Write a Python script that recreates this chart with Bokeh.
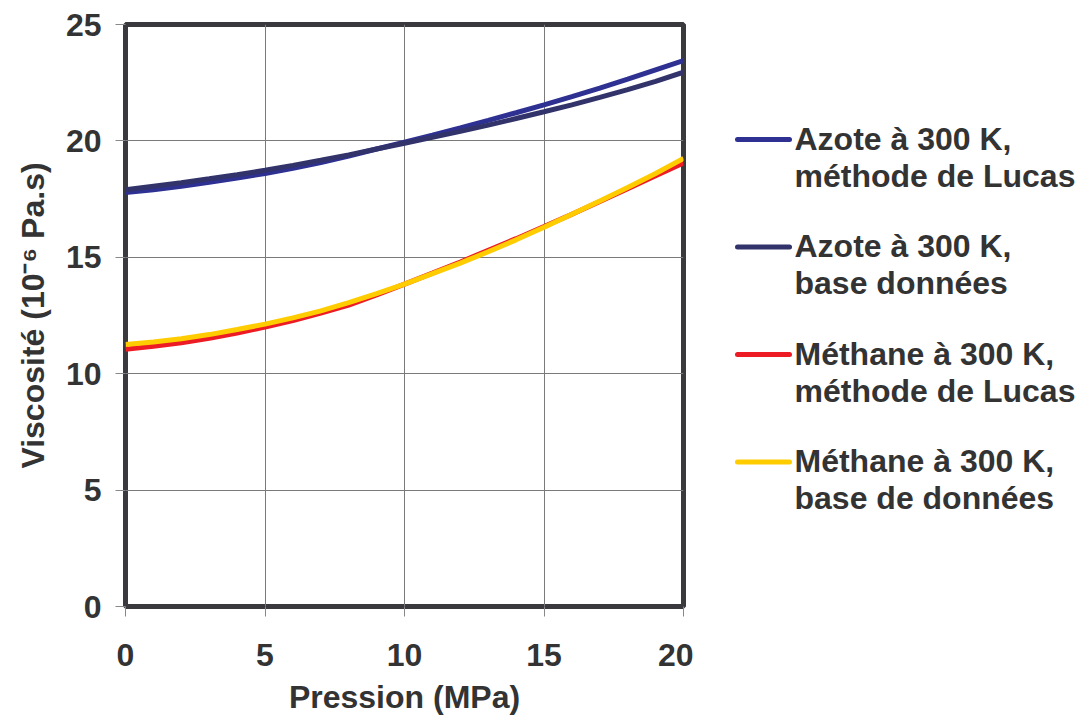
from bokeh.plotting import figure
from bokeh.models import Range1d, FixedTicker
from bokeh.layouts import row
from bokeh.core.properties import value
from bokeh.embed import file_html
from bokeh.resources import INLINE

# ---- data ----
pression = [0, 1, 2, 3, 4, 5, 6, 7, 8, 9, 10, 11, 12, 13, 14, 15, 16, 17, 18, 19, 20]
azote_lucas = [17.78, 17.9, 18.05, 18.22, 18.4, 18.6, 18.82, 19.07, 19.35, 19.65, 19.95,
               20.25, 20.56, 20.88, 21.21, 21.55, 21.9, 22.27, 22.65, 23.05, 23.45]
azote_base = [17.9, 18.05, 18.2, 18.37, 18.55, 18.74, 18.95, 19.17, 19.4, 19.65, 19.9,
              20.15, 20.41, 20.68, 20.96, 21.25, 21.55, 21.87, 22.2, 22.56, 22.95]
methane_lucas = [11.05, 11.18, 11.33, 11.52, 11.75, 12.0, 12.28, 12.6, 12.95, 13.38, 13.85,
                 14.32, 14.8, 15.3, 15.8, 16.32, 16.85, 17.4, 17.95, 18.5, 19.05]
methane_base = [11.25, 11.36, 11.5, 11.68, 11.9, 12.13, 12.4, 12.7, 13.05, 13.44, 13.85,
                14.3, 14.75, 15.24, 15.75, 16.29, 16.85, 17.42, 18.0, 18.6, 19.25]

series_first = ["Azote à 300 K,", "Azote à 300 K,", "Méthane à 300 K,", "Méthane à 300 K,"]
series_second = ["méthode de Lucas", "base données", "méthode de Lucas", "base de données"]
series_values = [azote_lucas, azote_base, methane_lucas, methane_base]
series_colors = ["#2E3192", "#33336B", "#ED1C24", "#FFCC00"]

x_ticks = [0, 5, 10, 15, 20]
y_ticks = [0, 5, 10, 15, 20, 25]

FONT = "Liberation Sans"
TXT = "#333333"
FS = "32px"

p = figure(frame_width=558, frame_height=582,
           min_border_left=125, min_border_right=10,
           min_border_top=24, min_border_bottom=114,
           x_range=Range1d(0, 20), y_range=Range1d(0, 25),
           output_backend="svg", toolbar_location=None,
           background_fill_color="white", border_fill_color="white")

p.outline_line_color = "#3A3A3E"
p.outline_line_width = 5

for ax in (p.xaxis[0], p.yaxis[0]):
    ax.axis_line_color = None
    ax.major_tick_line_color = "#888888"
    ax.major_tick_line_width = 1
    ax.major_tick_out = 10
    ax.major_tick_in = 0
    ax.minor_tick_line_color = None
    ax.major_label_text_font = FONT
    ax.major_label_text_font_style = "bold"
    ax.major_label_text_font_size = FS
    ax.major_label_text_color = TXT
    ax.axis_label_text_font = FONT
    ax.axis_label_text_font_style = "bold"
    ax.axis_label_text_font_size = FS
    ax.axis_label_text_color = TXT

p.xaxis[0].ticker = FixedTicker(ticks=x_ticks)
p.yaxis[0].ticker = FixedTicker(ticks=y_ticks)
p.xaxis[0].axis_label = "Pression (MPa)"
p.yaxis[0].axis_label = "Viscosité (10⁻⁶ Pa.s)"
p.xaxis[0].major_label_standoff = 27
p.yaxis[0].major_label_standoff = 14
p.xaxis[0].axis_label_standoff = 10
p.yaxis[0].axis_label_standoff = 12

p.xgrid.ticker = FixedTicker(ticks=x_ticks)
p.ygrid.ticker = FixedTicker(ticks=y_ticks)
p.grid.grid_line_color = "#7A7A7A"
p.grid.grid_line_width = 1

for vals, col in zip(series_values, series_colors):
    p.line(pression, vals, line_color=col, line_width=5)

# ---- legend panel: frame aligned with the chart frame, coordinates = page pixels ----
LW = 388
lg = figure(width=LW, frame_height=582,
            min_border_left=0, min_border_right=0,
            min_border_top=24, min_border_bottom=114,
            x_range=Range1d(0, LW), y_range=Range1d(606, 24),
            output_backend="svg", toolbar_location=None,
            background_fill_color="white", border_fill_color="white")
lg.axis.visible = False
lg.grid.visible = False
lg.outline_line_color = None

sw_x0, sw_x1, txt_x = 44, 96, 101
row0, step = 139, 107.5
for i, (t1, t2, col) in enumerate(zip(series_first, series_second, series_colors)):
    yc = row0 + i * step
    lg.line([sw_x0, sw_x1], [yc, yc], line_color=col, line_width=5, line_cap="round")
    lg.text([txt_x], [yc - 1], text=[t1], text_font=value(FONT), text_font_style="bold",
            text_font_size=FS, text_color=TXT, text_baseline="alphabetic")
    lg.text([txt_x], [yc + 36], text=[t2], text_font=value(FONT), text_font_style="bold",
            text_font_size=FS, text_color=TXT, text_baseline="alphabetic")

layout = row(p, lg, spacing=0)
open("out.html", "w").write(file_html(layout, INLINE))
